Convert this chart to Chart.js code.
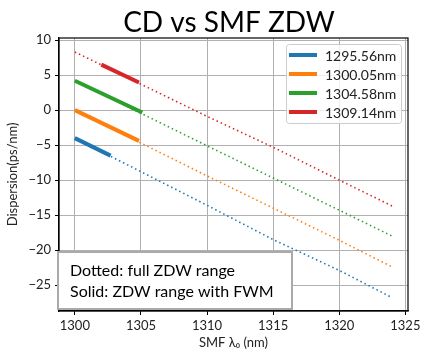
<!DOCTYPE html>
<html>
<head>
<meta charset="utf-8">
<script src="https://cdn.jsdelivr.net/npm/chart.js@4.4.1/dist/chart.umd.min.js"></script>
<style>
  html, body { margin: 0; padding: 0; background: #fff; }
  #wrap { width: 435px; height: 360px; }
</style>
</head>
<body>
<div id="wrap"><canvas id="myChart" width="435" height="360"></canvas></div>
<script>
// full ZDW range (dotted)
const lambda0Full = [1300, 1310, 1315, 1320, 1324];
const cdBlue   = [-4.0, -13.6, -18.5, -22.9, -26.8];
const cdOrange = [0.0, -9.4, -14.0, -18.6, -22.4];
const cdGreen  = [4.2, -5.1, -9.7, -14.3, -18.0];
const cdRed    = [8.3, -0.9, -5.3, -10.0, -13.7];

// ZDW range with FWM (solid)
const fwmBlueX   = [1300, 1302.7];
const fwmBlueY   = [-4.0, -6.5];
const fwmOrangeX = [1300, 1304.85];
const fwmOrangeY = [0.0, -4.4];
const fwmGreenX  = [1300, 1305.1];
const fwmGreenY  = [4.2, -0.35];
const fwmRedX    = [1302.0, 1304.85];
const fwmRedY    = [6.5, 3.95];

const pumpLabels = ["1295.56nm", "1300.05nm", "1304.58nm", "1309.14nm"];
const colors = ["#1f77b4", "#ff7f0e", "#2ca02c", "#d62728"];

const xTicks = [1300, 1305, 1310, 1315, 1320, 1325];
const yTicks = [-25, -20, -15, -10, -5, 0, 5, 10];

const FONT = "Lato, 'Open Sans', sans-serif";

function pts(xs, ys) {
    return xs.map((x, i) => ({x: x, y: ys[i]}));
}

const dotted = [cdBlue, cdOrange, cdGreen, cdRed];
const solidX = [fwmBlueX, fwmOrangeX, fwmGreenX, fwmRedX];
const solidY = [fwmBlueY, fwmOrangeY, fwmGreenY, fwmRedY];

let datasets = [];
dotted.forEach((ys, i) => {
    datasets.push({
        label: pumpLabels[i] + " full",
        data: pts(lambda0Full, ys),
        borderColor: colors[i],
        borderWidth: 1.6,
        borderDash: [1.5, 3],
        pointRadius: 0,
        fill: false,
        isFull: true
    });
});
solidX.forEach((xs, i) => {
    datasets.push({
        label: pumpLabels[i],
        data: pts(xs, solidY[i]),
        borderColor: colors[i],
        borderWidth: 4,
        borderCapStyle: "butt",
        pointRadius: 0,
        fill: false
    });
});

// title, frame, legend and note box
const decorations = {
    id: "decorations",
    afterDraw(chart) {
        const c = chart.ctx;
        const a = chart.chartArea;
        c.save();
        // frame
        c.strokeStyle = "#000";
        c.lineWidth = 1.2;
        c.strokeRect(a.left, a.top, a.right - a.left, a.bottom - a.top);

        // title
        c.fillStyle = "#000";
        c.font = "28px " + FONT;
        c.textAlign = "center";
        c.textBaseline = "alphabetic";
        c.fillText("CD vs SMF ZDW", 229, 32);

        // legend
        const lx = a.right - 122, ly = a.top + 6, lw = 115, lh = 79;
        c.fillStyle = "rgba(255,255,255,0.8)";
        c.strokeStyle = "#cccccc";
        c.lineWidth = 1;
        c.beginPath();
        c.roundRect(lx + 0.5, ly + 0.5, lw, lh, 3);
        c.fill();
        c.stroke();
        c.font = "14px " + FONT;
        c.textAlign = "left";
        c.textBaseline = "middle";
        chart.data.datasets.filter(d => !d.isFull).forEach((d, i) => {
            const yy = ly + 11 + i * 19;
            c.strokeStyle = d.borderColor;
            c.lineWidth = 4;
            c.beginPath();
            c.moveTo(lx + 3, yy);
            c.lineTo(lx + 31, yy);
            c.stroke();
            c.fillStyle = "#222";
            c.fillText(d.label, lx + 39, yy + 1);
        });

        // note box
        const bx = a.left - 1, by = a.bottom - 59, bw = 234, bh = 57;
        c.fillStyle = "#fff";
        c.fillRect(bx, by, bw, bh);
        c.strokeStyle = "#aaaaaa";
        c.lineWidth = 2;
        c.strokeRect(bx, by, bw, bh);
        c.fillStyle = "#000";
        c.font = "16px " + FONT;
        c.fillText("Dotted: full ZDW range", bx + 12, by + 19);
        c.fillText("Solid: ZDW range with FWM", bx + 12, by + 40);
        c.restore();
    }
};

const ctx = document.getElementById("myChart");

new Chart(ctx, {
    type: "line",
    data: { datasets: datasets },
    options: {
        responsive: false,
        animation: false,
        layout: { padding: { top: 38, right: 27, left: 0, bottom: 0 } },
        plugins: {
            legend: { display: false },
            title: { display: false },
            tooltip: { enabled: false }
        },
        scales: {
            x: {
                type: "linear",
                min: 1298.8,
                max: 1325.2,
                afterBuildTicks: s => { s.ticks = xTicks.map(v => ({value: v})); },
                afterFit: s => { s.height = 49; },
                grid: { color: "#b0b0b0", lineWidth: 1, tickColor: "#000", tickLength: 4 },
                border: { color: "#000", width: 1.2 },
                ticks: {
                    color: "#222",
                    font: { family: FONT, size: 13 },
                    padding: 3,
                    maxRotation: 0,
                    callback: v => String(v)
                },
                title: {
                    display: true,
                    text: "SMF λ₀ (nm)",
                    color: "#222",
                    font: { family: FONT, size: 13 },
                    padding: { top: 2, bottom: 9 }
                }
            },
            y: {
                type: "linear",
                min: -28.7,
                max: 10.3,
                afterBuildTicks: s => { s.ticks = yTicks.map(v => ({value: v})); },
                afterFit: s => { s.width = 59; },
                grid: { color: "#b0b0b0", lineWidth: 1, tickColor: "#000", tickLength: 4 },
                border: { color: "#000", width: 1.2 },
                ticks: {
                    color: "#222",
                    font: { family: FONT, size: 13 },
                    padding: 4,
                    callback: v => String(v).replace("-", "\u2212")
                },
                title: {
                    display: true,
                    text: "Dispersion(ps/nm)",
                    color: "#222",
                    font: { family: FONT, size: 13 },
                    padding: { top: 5, bottom: 2 }
                }
            }
        }
    },
    plugins: [decorations]
});
</script>
</body>
</html>
